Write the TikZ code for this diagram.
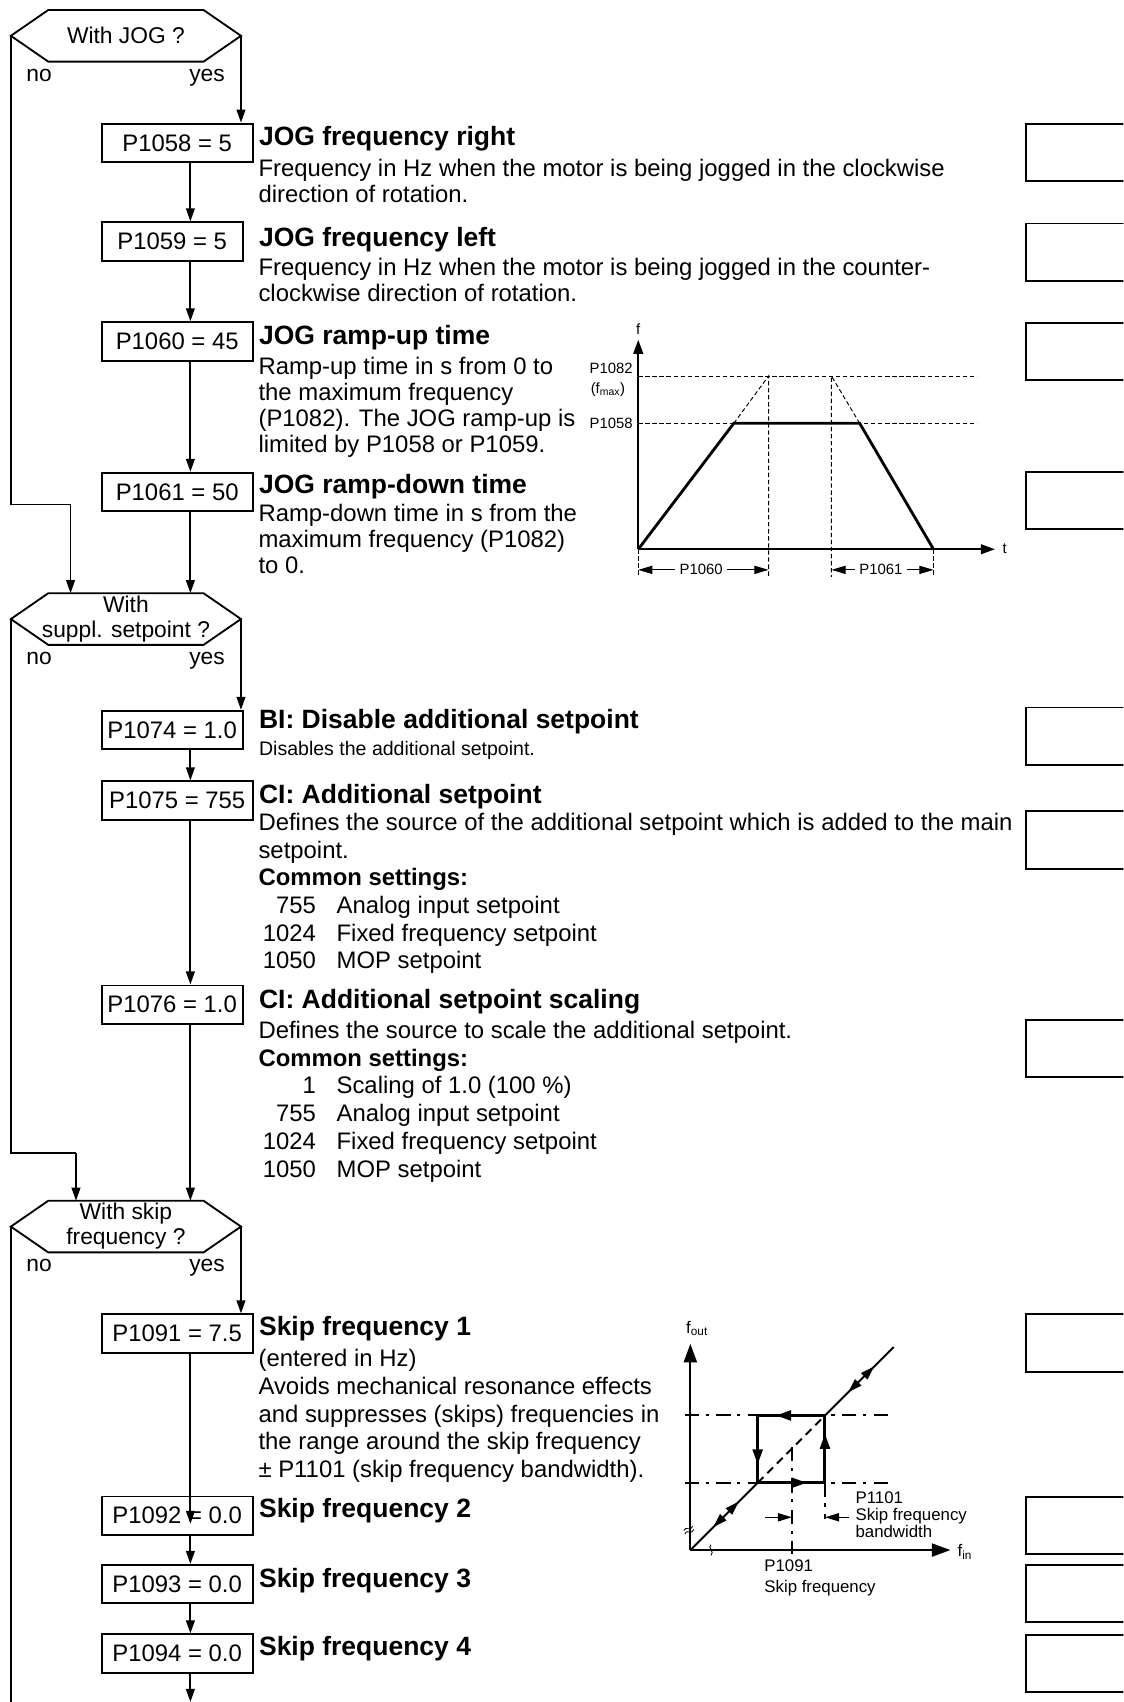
\documentclass[tikz,border=0pt]{standalone}
\usepackage{fontspec}
\setmainfont{Liberation Sans}
\usetikzlibrary{arrows.meta,positioning,decorations.markings}

% font sizes (1pt = 1px of the sheet)
\newcommand\descfont{\fontsize{22}{25.5}\selectfont}
\newcommand\jogdesc{\fontsize{22}{24}\selectfont}
\newcommand\titlefont{\fontsize{24.4}{28}\selectfont\bfseries}
\newcommand\boxfont{\fontsize{22}{25}\selectfont}
\newcommand\hexfont{\fontsize{21}{23}\selectfont}
\newcommand\smallfont{\fontsize{18}{21}\selectfont}
\newcommand\jogfont{\fontsize{13.7}{15}\selectfont}
\newcommand\skipfont{\fontsize{15.5}{15.5}\selectfont}

\tikzset{
  flowline/.style={line width=1.7pt},
  flowarrow/.style={line width=1.7pt, -{Triangle[length=12pt,width=8pt]}},
  parbox/.style={rectangle, draw, line width=1.7pt, anchor=north west,
    minimum width=#1, minimum height=35.4pt, inner sep=0pt, font=\boxfont},
  parbox/.default=139.2pt,
  decision/.style={inner sep=0pt, align=center, font=\hexfont},
  hexline/.style={line width=1.7pt},
  branch/.style={inner sep=0pt, anchor=base, font=\hexfont},
  partitle/.style={anchor=west, inner sep=0pt, font=\titlefont},
  pardesc/.style={anchor=north west, inner sep=0pt, align=left, font=\descfont},
  parlist/.style={anchor=north west, inner sep=0pt, font=\descfont},
  userbox/.style={rectangle, draw, line width=1.7pt, anchor=north west,
    minimum width=120pt, minimum height=53pt},
  axisline/.style={line width=1.6pt},
  thindash/.style={line width=0.9pt, dash pattern=on 4pt off 2.5pt},
  rampline/.style={line width=2.6pt},
  dimarrow/.style={line width=1pt, -{Triangle[length=13pt,width=7.5pt]}},
  jogtext/.style={inner sep=0pt, font=\jogfont},
  skiptext/.style={inner sep=0pt, font=\skipfont},
  dashdot/.style={line width=1.8pt, dash pattern=on 13pt off 6pt on 3pt off 7pt},
  hystline/.style={line width=2.8pt, postaction=decorate,
    decoration={markings,
      mark=between positions 0.1825 and 0.95 step 0.25 with
        {\arrow{Triangle[length=14pt,width=9pt]}}}},
  diagline/.style={line width=1.8pt, postaction=decorate,
    decoration={markings,
      mark=at position 0.34 with {\arrowreversed{Triangle[length=13pt,width=8pt]}},
      mark=at position 0.72 with {\arrow{Triangle[length=13pt,width=8pt]}}}},
}

% hexagon round a decision node, with its tips named -l, -r and top -t
\newcommand\hexshape[1]{%
  \draw[hexline] ([shift={(-71.5,-23.8)}]#1.center) -- ([shift={(71.5,-23.8)}]#1.center)
    -- ([shift={(106,0)}]#1.center) -- ([shift={(71.5,23.8)}]#1.center)
    -- ([shift={(-71.5,23.8)}]#1.center) -- ([shift={(-106,0)}]#1.center) -- cycle;
  \coordinate (#1-l) at ([shift={(-106,0)}]#1.center);
  \coordinate (#1-r) at ([shift={(106,0)}]#1.center);
  \coordinate (#1-t) at ([shift={(0,-23.8)}]#1.center);}

\begin{document}
\begin{tikzpicture}[x=1pt, y=-1pt]
  \useasboundingbox (0,0) rectangle (1035,1568);
  \clip (0,0) rectangle (1035,1568);
  \coordinate (col) at (175.4,0);
  \coordinate (bot) at (0,1568);

  % JOG block
  \node[decision] (hx1) at (116,33) {With JOG ?};
  \hexshape{hx1}
  \node[branch] (no1) at (36,75.5) {no};
  \node[branch] (yes1) at (190.7,75.5) {yes};

  \node[parbox] (p1058) at (92.8,113) {P1058 = 5};
  \node[parbox=130pt] (p1059) at (92.8,204) {P1059 = 5};
  \node[parbox] (p1060) at (92.8,296) {P1060 = 45};
  \node[parbox] (p1061) at (92.8,434.7) {P1061 = 50};

  \node[partitle] (t1058) at (238.5,127.5) {JOG frequency right};
  \node[partitle] (t1059) at (238.5,220.6) {JOG frequency left};
  \node[partitle] (t1060) at (238.5,311) {JOG ramp-up time};
  \node[partitle] (t1061) at (238.5,448) {JOG ramp-down time};

  \node[pardesc, font=\jogdesc] (d1058) at (238,146.4)
    {Frequency in Hz when the motor is being jogged in the clockwise\\direction of rotation.};
  \node[pardesc, font=\jogdesc] (d1059) at (238,237.7)
    {Frequency in Hz when the motor is being jogged in the counter-\\clockwise direction of rotation.};
  \node[pardesc, font=\jogdesc] (d1060) at (238,328.5)
    {Ramp-up time in s from 0 to\\the maximum frequency\\(P1082). The JOG ramp-up is\\limited by P1058 or P1059.};
  \node[pardesc, font=\jogdesc] (d1061) at (238,464.4)
    {Ramp-down time in s from the\\maximum frequency (P1082)\\to 0.};

  \draw[flowarrow] (hx1-r) -- (hx1-r |- p1058.north);
  \draw[flowarrow] (p1058.south -| col) -- (p1059.north -| col);
  \draw[flowarrow] (p1059.south -| col) -- (p1060.north -| col);
  \draw[flowarrow] (p1060.south -| col) -- (p1061.north -| col);

  % supplementary setpoint block
  \node[decision] (hx2) at (116,570.3) {With\\suppl. setpoint ?};
  \hexshape{hx2}
  \node[branch] (no2) at (36,612) {no};
  \node[branch] (yes2) at (190.7,612) {yes};

  \coordinate (j1) at (65,464.8);
  \draw[flowline] (hx1-l) |- (j1);
  \draw[flowarrow] (j1) -- (j1 |- hx2-t);
  \draw[flowarrow] (p1061.south -| col) -- (col |- hx2-t);

  \node[parbox=130pt] (p1074) at (92.8,654) {P1074 = 1.0};
  \node[parbox] (p1075) at (92.8,719) {P1075 = 755};
  \node[parbox=130pt] (p1076) at (92.8,907) {P1076 = 1.0};

  \node[partitle] (t1074) at (238.5,665) {BI: Disable additional setpoint};
  \node[partitle] (t1075) at (238.5,734) {CI: Additional setpoint};
  \node[partitle] (t1076) at (238.5,923) {CI: Additional setpoint scaling};

  \node[pardesc, font=\smallfont] (d1074) at (238.5,682.8) {Disables the additional setpoint.};
  \node[parlist] (d1075) at (238,746.9) {%
    \begin{tabular}{@{\hspace{4pt}}r@{\hspace{19pt}}l@{}}
      \multicolumn{2}{@{}l@{}}{Defines the source of the additional setpoint which is added to the main}\\
      \multicolumn{2}{@{}l@{}}{setpoint.}\\
      \multicolumn{2}{@{}l@{}}{\bfseries Common settings:}\\
      755 & Analog input setpoint\\
      1024 & Fixed frequency setpoint\\
      1050 & MOP setpoint
    \end{tabular}};
  \node[parlist] (d1076) at (238,938.8) {%
    \begin{tabular}{@{\hspace{4pt}}r@{\hspace{19pt}}l@{}}
      \multicolumn{2}{@{}l@{}}{Defines the source to scale the additional setpoint.}\\
      \multicolumn{2}{@{}l@{}}{\bfseries Common settings:}\\
      1 & Scaling of 1.0 (100 \%)\\
      755 & Analog input setpoint\\
      1024 & Fixed frequency setpoint\\
      1050 & MOP setpoint
    \end{tabular}};

  \draw[flowarrow] (hx2-r) -- (hx2-r |- p1074.north);
  \draw[flowarrow] (p1074.south -| col) -- (p1075.north -| col);
  \draw[flowarrow] (p1075.south -| col) -- (p1076.north -| col);

  % skip frequency block
  \node[decision] (hx3) at (116,1130) {With skip\\frequency ?};
  \hexshape{hx3}
  \node[branch] (no3) at (36,1171.5) {no};
  \node[branch] (yes3) at (190.7,1171.5) {yes};

  \coordinate (j2) at (70,1062);
  \draw[flowline] (hx2-l) |- (j2);
  \draw[flowarrow] (j2) -- (j2 |- hx3-t);
  \draw[flowarrow] (p1076.south -| col) -- (col |- hx3-t);

  \node[parbox] (p1091) at (92.8,1210) {P1091 = 7.5};
  \node[parbox] (p1092) at (92.8,1377.8) {P1092 = 0.0};
  \node[parbox] (p1093) at (92.8,1440.8) {P1093 = 0.0};
  \node[parbox] (p1094) at (92.8,1504.8) {P1094 = 0.0};

  \node[partitle] (t1091) at (238.5,1224) {Skip frequency 1};
  \node[partitle] (t1092) at (238.5,1391.6) {Skip frequency 2};
  \node[partitle] (t1093) at (238.5,1456) {Skip frequency 3};
  \node[partitle] (t1094) at (238.5,1519) {Skip frequency 4};

  \node[pardesc] (d1091) at (238,1243.1)
    {(entered in Hz)\\Avoids mechanical resonance effects\\and suppresses (skips) frequencies in\\the range around the skip frequency\\± P1101 (skip frequency bandwidth).};

  \coordinate (k1092) at ([yshift=11pt]p1092.south);
  \draw[flowarrow] (hx3-r) -- (hx3-r |- p1091.north);
  \draw[flowarrow] (p1091.south -| col) -- (k1092 -| col);
  \draw[flowarrow] (p1092.south -| col) -- (p1093.north -| col);
  \draw[flowarrow] (p1093.south -| col) -- (p1094.north -| col);
  \draw[flowarrow] (p1094.south -| col) -- (col |- bot);
  \draw[flowline] (hx3-l) -- (hx3-l |- bot);

  % entry boxes at the right margin
  \foreach \n/\y in {1058/113, 1059/205, 1060/296.5, 1061/433.8, 1074/651,
                     1075/746.5, 1076/938.5, 1091/1210, 1092/1378,
                     1093/1440.8, 1094/1505.3}
    \node[userbox] (u\n) at (944,\y) {};

  % JOG ramp sketch
  \coordinate (o) at (588,506);
  \coordinate (ra) at (676,390);
  \coordinate (rb) at (792,390);
  \coordinate (rc) at (860,506);
  \coordinate (m1) at (708,346.5);
  \coordinate (m2) at (766,346.5);
  \draw[thindash] (o |- m1) -- (900,346.5);
  \draw[thindash] (o |- ra) -- (900,390);
  \draw[thindash] (ra) -- (m1) -- ++(0,185);
  \draw[thindash] (rb) -- (m2) -- ++(0,185);
  \draw[thindash] (o) -- ++(0,25.5);
  \draw[thindash] (rc) -- ++(0,25.5);
  \draw[axisline, -{Triangle[length=13pt,width=9pt]}] (o) -- (588,313);
  \draw[axisline, -{Triangle[length=13pt,width=9pt]}] (o) -- (916.6,506);
  \draw[rampline] (o) -- (ra) -- (rb) -- (rc);
  \node[jogtext] (lf) at (588,303) {f};
  \node[jogtext] (lt) at (925.6,506) {t};
  \node[jogtext, anchor=east] (l1082) at (583,339) {P1082};
  \node[jogtext, anchor=east] (lfmax) at (576,358.8) {(f\textsubscript{max})};
  \node[jogtext, anchor=east] (l1058) at (583,390) {P1058};
  \node[jogtext, inner sep=4pt] (l1060) at (646,525) {P1060};
  \node[jogtext, inner sep=4pt] (l1061) at (811.5,525) {P1061};
  \draw[dimarrow] (l1060.west) -- (o |- l1060);
  \draw[dimarrow] (l1060.east) -- (m1 |- l1060);
  \draw[dimarrow] (l1061.west) -- (m2 |- l1061);
  \draw[dimarrow] (l1061.east) -- (rc |- l1061);

  % skip frequency sketch
  \coordinate (so) at (636,1428);
  \coordinate (sl) at (698,1366);
  \coordinate (su) at (760,1304);
  \coordinate (se) at (823.3,1241);
  \coordinate (sf) at (729.7,1333);
  \draw[dashdot] (631,1304) -- (820,1304);
  \draw[dashdot] (631,1366) -- (820,1366);
  \draw[dashdot] (sf) -- ++(0,98.5);
  \draw[dashdot] (su |- sl) -- ++(0,33);
  \draw[axisline, line width=1.8pt, -{Triangle[length=17pt,width=12pt]}] (so) -- (636,1238);
  \draw[axisline, line width=1.8pt, -{Triangle[length=17pt,width=12pt]}] (so) -- (875.6,1428);
  \draw[diagline] (so) -- (sl);
  \draw[line width=1.8pt, dash pattern=on 7.5pt off 5pt] (sl) -- (su);
  \draw[diagline] (su) -- (se);
  \draw[hystline] (su) -- (sl |- su) -- (sl) -- (su |- sl) -- cycle;
  \draw[dimarrow, line width=1.2pt] (705,1397.8) -- (sf |- 0,1397.8);
  \draw[dimarrow, line width=1.2pt] (782,1397.8) -- (su |- 0,1397.8);
  \draw[line width=0.8pt] (630,1410) .. controls (632,1405) and (635,1412) .. (638,1406);
  \draw[line width=0.8pt] (631,1413) .. controls (633,1408) and (636,1415) .. (639,1409);
  \draw[line width=0.8pt] (655,1423) .. controls (651,1426) and (659,1429) .. (655,1433);
  \node[skiptext, anchor=west] (lfout) at (632,1224) {f\textsubscript{out}};
  \node[skiptext, anchor=west] (lfin) at (882,1430) {f\textsubscript{in}};
  \node[skiptext, anchor=north west, align=left] (lbw) at (788,1374.4)
    {P1101\\Skip frequency\\bandwidth};
  \node[skiptext, anchor=north west, align=left, font=\fontsize{15.5}{19.6}\selectfont]
    (lsf) at (704,1436.9) {P1091\\Skip frequency};
\end{tikzpicture}
\end{document}
